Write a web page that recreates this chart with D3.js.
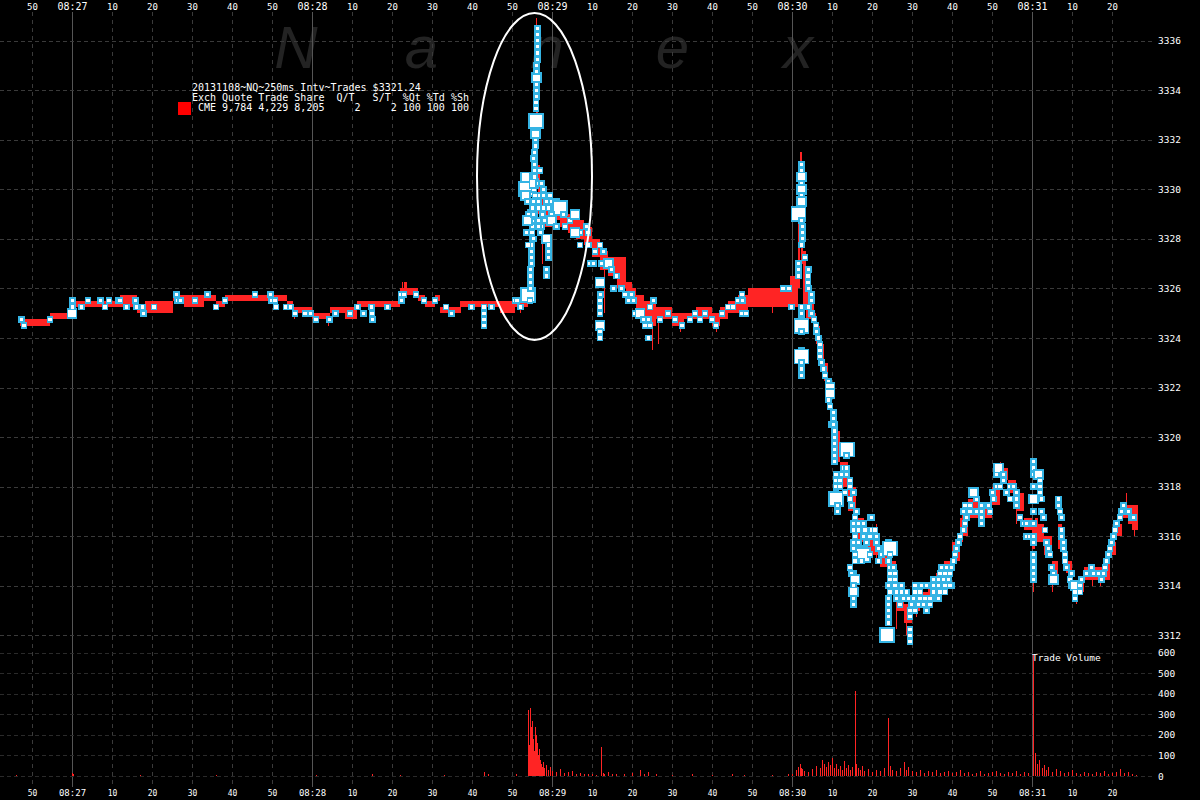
<!DOCTYPE html>
<html><head><meta charset="utf-8">
<script src="https://cdn.jsdelivr.net/npm/d3@7"></script>
<style>
html,body{margin:0;padding:0;background:#000;}
svg{display:block;}
</style></head><body>
<svg id="c" width="1200" height="800"></svg>
<script>
// ---------- DATA (seconds relative to 08:27:00) ----------
const secTicks = d3.range(-10, 261, 10);
const priceTicks = d3.range(3312, 3337, 2);
const volTicks = d3.range(0, 601, 100);
const legendLines = [
  "20131108~NQ~250ms Intv~Trades $3321.24",
  "Exch Quote Trade Share  Q/T   S/T  %Qt %Td %Sh",
  " CME 9,784 4,229 8,205     2     2 100 100 100"
];
const watermark = ["N","a","n","e","x"];
const quoteEnd = 266.5;

// quotes: [startSec, bid, ask]
const quotesQuiet = [[-13,3324.5,3324.75],[-5.5,3324.75,3325.0],[0,3325.25,3325.5],[12,3325.25,3325.75],[16.25,3325.0,3325.25],[18.25,3325.0,3325.5],[25.25,3325.5,3325.75],[28,3325.25,3325.75],[33,3325.5,3325.75],[36,3325.25,3325.5],[38.25,3325.5,3325.75],[53.75,3325.25,3325.5],[55.25,3325.0,3325.25],[60,3324.75,3325.0],[64.5,3325.0,3325.25],[68.25,3324.75,3325.25],[71.25,3325.25,3325.5],[82,3325.5,3326.0],[83,3325.75,3326.25],[83.75,3325.75,3326.0],[86.5,3325.5,3325.75],[88.25,3325.25,3325.5],[90.75,3325.5,3325.75],[92,3325.0,3325.25],[97,3325.25,3325.5],[107,3325.0,3325.5],[110.75,3325.25,3325.5]];
const quotesSpike = [[114,3325.5,3326.0],[114.5,3326.0,3327.0],[115,3327.5,3329.0],[115.5,3329.5,3331.5],[116,3332.0,3336.75],[116.3,3330.0,3334.0],[116.6,3329.0,3331.0],[117,3328.75,3330.0],[118,3328.5,3329.5],[120,3328.75,3329.5],[122,3328.5,3329.25],[124,3328.25,3329.0],[126,3328.0,3328.75],[128,3327.75,3328.5],[130,3327.25,3328.0],[132,3326.75,3327.5],[134,3326.5,3327.25],[136.25,3326.0,3327.25],[138.5,3325.75,3326.25],[140,3325.5,3326.0],[141,3325.0,3325.75],[143,3324.5,3325.5],[146,3324.75,3325.25],[150,3324.5,3325.0],[153,3324.75,3325.0],[156,3324.75,3325.25],[160,3324.5,3325.0],[162,3324.75,3325.25],[164,3325.0,3325.5],[166.5,3325.0,3325.75]];
const quotesSell = [[169,3325.25,3326.0],[179.5,3325.25,3326.5],[181.5,3326.0,3329.0],[182,3328.5,3331.5],[182.25,3327.0,3329.5],[182.75,3325.25,3327.5],[183.5,3324.75,3326.5],[184.5,3324.75,3325.5],[185.5,3324.25,3325.0],[186,3323.75,3324.5],[187,3323.0,3323.75],[188,3322.25,3323.0],[189,3321.5,3322.25],[190,3320.25,3321.0],[191,3319.0,3320.25],[192,3318.0,3319.0],[194,3317.0,3318.0],[196,3315.75,3316.75],[198,3315.25,3316.0],[200,3315.25,3316.0],[202,3314.75,3315.5],[204,3313.75,3315.0],[206,3313.0,3313.75],[208,3312.5,3313.25],[210,3313.0,3313.75],[212,3313.25,3313.75],[214,3313.5,3314.0],[216,3314.0,3314.5],[218,3314.25,3315.0],[220,3315.0,3315.75],[222,3316.0,3316.75],[224,3316.75,3317.5],[227,3316.75,3317.25],[230,3317.25,3318.0],[232,3318.25,3318.75],[234,3317.75,3318.25],[236,3317.0,3317.75],[238,3316.25,3316.75],[240,3315.5,3316.5],[240.75,3315.75,3316.75],[241.5,3315.75,3316.5],[243,3315.25,3316.0],[245,3314.25,3315.0],[246.5,3315.5,3316.5],[247.5,3315.0,3315.75],[248.5,3314.5,3315.0],[250,3313.75,3314.25],[253,3314.25,3314.75],[256,3314.25,3314.75],[258,3314.25,3315.0],[259.5,3315.25,3315.75],[261,3316.0,3316.5],[262.5,3316.75,3317.25],[264,3316.5,3317.25],[265,3316.25,3317.25]];
// momentary quote flickers: [sec, low, high]
const quoteTicks = [[55.5,3324.75,3325.25],[64,3324.5,3325.0],[75.5,3324.75,3325.25],[82.5,3325.5,3326.25],[97,3325.0,3325.5],[112,3325.0,3325.5],[115.9,3331.0,3336.9],[117.5,3327.0,3330.0],[133,3325.0,3327.5],[145,3323.5,3325.0],[146.5,3323.75,3324.75],[152,3324.25,3325.0],[161,3324.25,3325.0],[175,3325.0,3326.0],[182.1,3329.0,3331.5],[183,3324.5,3327.0],[195,3314.75,3316.5],[201,3315.0,3316.5],[206,3312.25,3313.5],[208.5,3312.0,3313.0],[211,3312.75,3313.5],[222.5,3315.75,3317.0],[225.5,3317.25,3318.0],[232,3318.0,3319.0],[236,3316.5,3317.5],[240.3,3313.75,3314.5],[245,3313.75,3314.5],[251,3313.25,3314.0],[255,3314.0,3314.5],[257,3314.0,3314.5],[263.5,3317.0,3317.75],[265.5,3316.0,3316.75]];

// trades: [sec, price, sizeClass]
const tradesQuiet = [[-12.6,3324.75,1],[-12.0,3324.5,1],[-5.5,3324.75,1],[0.0,3325.0,2],[0.1,3325.25,1],[0.2,3325.5,1],[2.4,3325.25,1],[4.0,3325.5,1],[7.2,3325.5,1],[8.25,3325.25,1],[9.25,3325.5,1],[11.6,3325.5,1],[12.0,3325.5,1],[13.7,3325.25,1],[15.9,3325.5,1],[16.2,3325.25,1],[17.7,3325.25,1],[17.8,3325.0,1],[20.5,3325.25,1],[26.2,3325.75,1],[26.3,3325.5,1],[27.2,3325.5,1],[30.75,3325.5,1],[33.9,3325.75,1],[36.0,3325.25,1],[38.25,3325.5,1],[45.75,3325.75,1],[49.7,3325.75,1],[49.8,3325.5,1],[50.75,3325.5,1],[51.0,3325.25,1],[53.5,3325.25,1],[54.7,3325.25,1],[55.75,3325.0,1],[58.25,3325.0,1],[59.7,3325.0,1],[61.0,3324.75,1],[64.3,3324.75,1],[65.9,3325.0,1],[69.5,3325.0,1],[71.4,3325.25,1],[72.8,3325.0,1],[74.9,3325.25,1],[75.0,3325.0,1],[75.1,3324.75,1],[78.9,3325.25,1],[82.25,3325.75,1],[82.3,3325.5,1],[83.0,3325.75,1],[86.0,3325.75,1],[88.0,3325.5,1],[90.75,3325.5,1],[93.5,3325.25,1],[94.9,3325.0,1],[99.9,3325.25,1],[103.0,3325.25,1],[103.0,3325.0,1],[103.0,3324.75,1],[103.0,3324.5,1],[104.9,3325.25,1],[110.75,3325.5,1],[111.25,3325.5,1],[112.2,3325.25,1]];
const tradesSpike = [[114.0,3325.75,3],[114.5,3325.5,1],[114.6,3326.0,1],[114.6,3326.25,1],[114.7,3326.5,1],[114.7,3326.75,1],[114.8,3327.0,1],[114.8,3327.25,1],[114.9,3327.5,1],[114.9,3327.75,1],[115.0,3328.0,1],[115.0,3328.25,1],[115.1,3328.5,1],[115.1,3328.75,1],[115.2,3329.0,2],[115.2,3329.25,1],[115.3,3329.5,1],[113.5,3330.0,3],[113.4,3330.5,2],[113.4,3329.75,2],[113.8,3329.5,1],[114.2,3329.0,1],[113.9,3328.75,2],[113.6,3328.25,1],[114.0,3327.75,1],[116.9,3329.75,1],[117.6,3329.0,1],[117.9,3330.0,1],[115.5,3330.0,1],[115.5,3330.25,2],[115.6,3330.5,1],[115.6,3330.75,1],[115.7,3331.0,1],[115.7,3331.25,1],[115.7,3331.5,1],[115.8,3331.75,1],[115.8,3332.0,1],[115.8,3332.25,2],[115.9,3332.5,1],[116.0,3332.75,3],[116.0,3333.25,1],[116.0,3333.5,1],[116.1,3333.75,1],[116.1,3334.0,1],[116.1,3334.25,1],[116.2,3334.5,2],[116.2,3334.75,1],[116.2,3335.0,1],[116.3,3335.25,1],[116.3,3335.5,1],[116.3,3335.75,1],[116.4,3336.0,1],[116.4,3336.25,1],[116.4,3336.5,1],[115.75,3329.75,1],[116.6,3329.5,1],[116.75,3329.25,1],[115.3,3329.0,1],[117.4,3328.5,1],[116.6,3328.5,1],[115.3,3328.0,1],[117.1,3328.25,1],[115.3,3331.25,1],[117.0,3330.75,1],[116.6,3330.25,1],[117.4,3330.25,1],[117.8,3329.75,1],[118.7,3329.5,1],[119.5,3329.75,1],[119.9,3329.5,1],[121.2,3329.5,1],[117.8,3329.25,1],[119.1,3329.25,1],[120.75,3329.25,1],[122.0,3329.25,3],[119.9,3329.0,1],[122.8,3329.0,1],[116.6,3328.75,1],[118.25,3328.75,1],[119.9,3328.75,2],[124.5,3328.75,1],[125.75,3329.0,2],[121.2,3328.5,1],[123.25,3328.5,1],[127.0,3328.25,1],[125.75,3328.25,2],[128.7,3328.5,1],[129.0,3328.25,1],[118.7,3328.0,2],[119.1,3327.75,1],[119.1,3327.5,1],[119.1,3327.25,1],[118.7,3326.75,1],[118.7,3326.5,1]];
const tradesDrift = [[127.0,3327.75,1],[129.1,3327.75,1],[129.5,3327.0,1],[130.3,3327.0,1],[130.75,3327.5,1],[132.0,3327.75,1],[132.8,3327.5,1],[132.4,3327.0,1],[134.1,3327.0,2],[134.9,3326.75,1],[136.2,3326.5,1],[132.0,3326.25,2],[132.1,3325.75,1],[132.0,3325.5,1],[132.0,3325.25,1],[132.0,3325.0,1],[132.0,3324.5,2],[132.0,3324.25,1],[132.0,3324.0,1],[135.3,3326.0,1],[137.4,3326.0,1],[138.25,3325.75,1],[139.9,3325.75,1],[139.1,3325.5,1],[140.3,3325.5,1],[140.75,3325.0,1],[142.0,3325.0,2],[142.8,3324.75,1],[144.1,3324.75,1],[145.3,3325.5,1],[144.5,3325.25,1],[143.25,3324.5,1],[144.5,3324.5,1],[144.1,3324.0,1],[147.0,3324.75,1],[149.0,3325.0,1],[150.75,3324.75,1],[152.5,3324.5,1],[154.5,3324.75,1],[155.75,3325.0,1],[157.0,3324.75,1],[158.25,3325.0,1],[160.0,3324.75,1],[161.0,3324.5,1],[162.5,3325.0,1],[164.0,3325.25,1],[165.25,3325.25,1],[166.5,3325.5,1],[167.5,3325.75,1],[167.7,3325.5,1],[167.5,3325.0,1],[168.5,3325.0,1],[177.75,3326.0,1],[179.25,3326.0,1],[179.9,3325.25,1]];
const tradesSpike2 = [[182.4,3331.0,1],[182.4,3330.75,1],[182.4,3330.5,2],[182.4,3330.25,1],[182.4,3330.0,2],[182.4,3329.75,1],[182.4,3329.5,2],[182.4,3329.25,1],[181.6,3329.0,3],[182.4,3328.75,1],[182.6,3328.5,1],[182.6,3328.25,1],[182.6,3328.0,1],[182.4,3327.75,1],[183.25,3327.25,1],[181.6,3327.0,1],[181.6,3326.75,1],[181.6,3326.5,1],[184.1,3326.75,1],[184.0,3326.5,1],[184.0,3326.25,1],[184.1,3326.0,1],[184.9,3325.75,1],[184.9,3325.5,1],[184.1,3325.25,1],[182.4,3325.25,1],[182.4,3325.0,1],[182.4,3324.75,1],[182.4,3324.5,3],[182.4,3324.25,1],[182.4,3323.5,1],[182.4,3323.25,3],[182.4,3323.0,1],[182.4,3322.75,1],[182.4,3322.5,1],[184.9,3325.0,1],[185.5,3324.75,1],[186.0,3324.5,1],[186.2,3324.25,1],[186.6,3324.0,1],[187.0,3323.75,1],[187.0,3323.5,1],[187.0,3323.25,1],[187.4,3323.0,1],[187.8,3322.75,1],[188.25,3322.5,1],[189.1,3322.25,1],[189.5,3322.0,2],[189.5,3321.75,2],[189.1,3321.5,1],[189.5,3321.25,1],[190.3,3321.0,1],[190.3,3320.75,1],[190.75,3320.5,1],[190.75,3320.25,1]];
const tradesSelloff = [[189.9,3320.5,1],[190.3,3320.5,1],[190.6,3320.25,1],[190.6,3320.0,1],[190.6,3319.75,1],[190.6,3319.5,1],[190.6,3319.25,1],[190.6,3319.0,1],[193.7,3319.5,3],[193.7,3319.25,1],[191.0,3318.5,1],[191.0,3318.25,1],[191.0,3318.0,1],[191.0,3317.75,1],[191.0,3317.5,3],[191.4,3317.25,1],[191.4,3317.0,1],[192.8,3318.75,1],[193.7,3318.75,1],[192.4,3318.5,1],[193.7,3318.5,1],[192.0,3318.25,1],[194.5,3318.25,1],[192.0,3318.0,1],[194.5,3318.0,1],[193.25,3317.75,1],[195.3,3317.75,1],[194.5,3317.5,1],[194.9,3317.25,1],[196.2,3317.0,1],[195.75,3316.75,1],[195.3,3316.5,1],[196.6,3316.5,1],[197.8,3316.5,1],[199.5,3316.75,1],[199.9,3316.75,1],[195.3,3316.25,1],[196.6,3316.25,1],[198.25,3316.25,1],[199.9,3316.25,1],[200.75,3316.25,1],[195.75,3316.0,1],[197.8,3316.0,1],[199.5,3316.0,1],[201.2,3316.0,1],[195.3,3315.75,1],[196.6,3315.75,1],[198.7,3315.75,1],[201.2,3315.75,1],[195.3,3315.5,1],[196.6,3315.5,1],[198.25,3315.5,1],[201.6,3315.5,1],[197.8,3315.25,3],[195.75,3315.25,1],[199.5,3315.25,1],[202.4,3315.25,1],[195.75,3315.0,1],[197.4,3315.0,1],[201.6,3315.0,1],[194.5,3314.75,1],[195.3,3314.5,1],[194.9,3314.5,1],[195.75,3314.25,2],[195.3,3314.0,1],[195.3,3313.75,2],[195.3,3313.5,1],[195.3,3313.25,1]];
const tradesBottom = [[204.1,3315.75,1],[204.5,3315.5,3],[204.5,3315.25,1],[204.1,3315.0,1],[204.5,3314.75,1],[205.3,3314.75,1],[204.5,3314.5,1],[205.75,3314.5,1],[204.5,3314.25,1],[205.75,3314.25,1],[204.1,3314.0,1],[205.75,3314.0,1],[207.0,3314.0,1],[204.5,3313.75,1],[206.2,3313.75,1],[207.4,3313.75,1],[208.7,3313.75,1],[204.1,3313.5,1],[206.2,3313.5,1],[207.8,3313.5,1],[209.1,3313.5,1],[210.3,3313.5,1],[212.0,3313.5,1],[213.25,3313.5,1],[214.5,3313.5,1],[204.1,3313.25,1],[207.0,3313.25,1],[209.9,3313.25,1],[211.6,3313.25,1],[212.8,3313.25,1],[214.5,3313.25,1],[204.1,3313.0,1],[209.5,3313.0,1],[210.75,3313.0,1],[213.7,3313.0,1],[204.1,3312.75,1],[209.5,3312.75,1],[204.1,3312.5,1],[203.8,3312.0,3],[209.5,3312.25,1],[209.5,3312.0,1],[209.5,3311.75,1],[207.4,3314.0,1],[210.75,3314.0,1],[212.4,3314.0,1],[213.7,3314.0,1],[210.75,3313.75,1],[212.0,3313.75,1]];
const tradesRebound = [[215.3,3314.25,1],[216.6,3314.25,1],[217.8,3314.25,1],[219.1,3314.25,1],[219.9,3314.0,1],[215.3,3314.0,1],[216.6,3314.0,1],[218.25,3314.0,1],[219.5,3314.0,1],[215.3,3313.75,1],[217.0,3313.75,1],[218.25,3313.75,1],[216.2,3313.5,1],[216.6,3313.5,1],[217.0,3314.5,1],[218.25,3314.5,1],[219.5,3314.5,1],[217.4,3314.75,1],[218.7,3314.75,1],[219.9,3314.75,1],[220.3,3315.0,1],[220.75,3315.25,1],[221.2,3315.5,1],[221.6,3315.75,1],[222.0,3316.0,1],[222.8,3316.25,1],[223.25,3316.5,1],[223.7,3316.75,1],[222.8,3317.0,1],[223.25,3317.25,1],[224.5,3317.0,1],[226.2,3317.0,1],[224.5,3317.25,1],[226.2,3317.5,1],[225.3,3317.75,2],[227.4,3317.25,1],[227.4,3317.0,1],[227.4,3316.75,1],[227.4,3316.5,1],[229.1,3317.25,1],[229.5,3317.0,1],[230.3,3317.5,1],[230.1,3317.75,1],[231.2,3318.5,1],[231.6,3318.75,2],[232.8,3318.5,1],[232.8,3318.25,1],[231.2,3318.0,1],[232.0,3318.0,1],[234.5,3318.0,1],[235.3,3318.0,1],[233.7,3317.75,1],[236.2,3317.75,1],[234.5,3317.5,1],[236.2,3317.5,1],[236.2,3317.25,1],[237.0,3316.75,1],[237.8,3316.5,1],[238.7,3316.5,1],[238.7,3316.0,1],[239.5,3316.0,1],[240.3,3319.0,1],[240.3,3318.75,1],[240.3,3318.5,1],[240.3,3318.0,1],[240.3,3317.5,2],[240.3,3317.0,1],[240.3,3316.5,1],[240.3,3316.0,1],[240.3,3315.75,1],[240.3,3315.25,1],[240.3,3315.0,1],[240.3,3314.75,1],[240.3,3314.5,1],[240.3,3314.25,1],[241.6,3318.5,2],[242.0,3318.25,1],[242.0,3318.0,1],[242.0,3317.75,1],[242.4,3317.5,1],[242.4,3317.0,1],[242.8,3316.75,1],[243.25,3316.25,1],[243.7,3315.75,1],[244.1,3315.5,1],[244.1,3315.25,1],[244.5,3315.25,1],[244.9,3314.75,1],[245.3,3314.5,1],[245.3,3314.25,2],[246.6,3317.5,1],[246.6,3317.25,1],[247.0,3317.0,1],[247.4,3316.75,1],[247.4,3316.25,1],[247.4,3316.0,1],[247.8,3315.75,1],[247.8,3315.5,1],[248.25,3315.25,1],[248.25,3315.0,1],[248.7,3314.75,1],[249.9,3314.5,1],[249.5,3314.25,1],[249.9,3314.0,1],[250.75,3314.0,2],[252.0,3314.0,1],[252.4,3314.25,1],[253.7,3314.5,1],[254.9,3314.75,1],[256.2,3314.5,1],[250.75,3313.75,1],[252.0,3313.75,1],[250.75,3313.5,1],[255.3,3314.5,1],[256.6,3314.5,1],[257.8,3314.5,1],[257.4,3314.25,1],[258.25,3314.75,1],[258.7,3315.0,1],[259.1,3315.25,1],[259.5,3315.5,1],[259.9,3315.75,1],[260.3,3316.0,1],[260.75,3316.25,1],[261.2,3316.5,1],[262.0,3316.75,1],[262.4,3317.0,1],[262.8,3317.25,1],[264.1,3317.0,1],[264.9,3316.75,1],[265.3,3316.75,1]];

// volume: [sec, shares]
const volQuiet = [[-14,5],[0,15],[0.2,8],[17,5],[36,4],[61,6],[75,8],[82,5],[93,6],[103,20],[104,8],[111,10]];
const volSpike = [[114,320],[114.25,150],[114.5,330],[114.75,240],[115,270],[115.25,180],[115.5,120],[115.75,240],[116,200],[116.25,160],[116.5,100],[116.75,130],[117,80],[117.25,60],[117.5,45],[117.75,70],[118,40],[118.5,55],[119,30],[119.5,45],[120,25],[121,20],[122,35],[123,15],[124,18],[125,25],[126,12],[127,15],[128,10],[129,12],[130,8],[131,6],[132.25,140],[132.75,15],[133,10],[134,20],[135,8],[136,12],[138,10],[140,14],[142,30],[143,12],[144,20],[146,8],[150,6],[155,8],[160,5],[165,10],[168,6],[175,5],[179,8],[180,12]];
const volSell = [[181,30],[181.5,45],[182,60],[182.25,40],[182.5,35],[183,25],[184,20],[185,35],[186,50],[187,40],[187.5,80],[188,60],[188.5,45],[189,70],[189.5,55],[190,90],[190.5,40],[191,60],[191.5,35],[192,50],[192.5,30],[193,75],[193.5,40],[194,55],[194.5,30],[195,45],[195.75,415],[196,60],[196.5,40],[197,30],[197.5,50],[198,25],[199,35],[200,20],[201,30],[202,25],[203,40],[204,280],[204.5,50],[205,30],[206,25],[207,40],[208,70],[208.5,30],[209,45],[210,25],[211,20],[212,30],[213,15],[214,25],[215,20],[216,30],[217,15],[218,20],[219,25],[220,15],[221,20],[222,30],[223,15],[224,20],[225,10],[226,15],[227,25],[228,10],[229,15],[230,20],[231,25],[232,15],[233,10],[234,20],[235,15],[236,25],[237,10],[238,20],[239,15],[240.25,590],[240.75,110],[241.25,60],[241.75,80],[242.5,40],[243,55],[243.5,30],[244,45],[245,20],[246,35],[247,25],[248,15],[249,20],[250,30],[251,15],[252,10],[253,20],[254,15],[255,10],[256,20],[257,15],[258,25],[259,10],[260,15],[261,20],[262,35],[263,15],[264,20],[265,10],[266,5]];

// ---------- CHART ----------
const W = 1200, H = 800;
const MONO = "'DejaVu Sans Mono', 'Liberation Mono', monospace";
const RED = "#ff2424", BLUE = "#35b4e4";
const x = d3.scaleLinear().domain([-18, 267]).range([0, 1140]);
const y = d3.scaleLinear().domain([3312, 3336]).range([635.3, 40.7]);
const yv = d3.scaleLinear().domain([0, 600]).range([776, 652.7]);
const sq = d3.scaleOrdinal().domain([1,2,3]).range([5, 9, 14]);

const svg = d3.select("#c");
svg.append("rect").attr("width", W).attr("height", H).attr("fill", "#000");

// watermark
svg.append("g").selectAll("text").data(watermark).join("text")
  .attr("x", (d, i) => 296 + i * 125.5).attr("y", 68)
  .attr("text-anchor", "middle")
  .attr("font-family", "'Liberation Sans', Arial, sans-serif")
  .attr("font-style", "italic").attr("font-size", 60)
  .attr("fill", "#232323").text(d => d);

// grid
const grid = svg.append("g").attr("shape-rendering", "crispEdges");
grid.selectAll("line.v").data(secTicks).join("line").attr("class", "v")
  .attr("x1", d => Math.round(x(d)) + 0.5).attr("x2", d => Math.round(x(d)) + 0.5)
  .attr("y1", 12).attr("y2", 787)
  .attr("stroke", d => d % 60 === 0 ? "#555" : "#3a3a3a")
  .attr("stroke-dasharray", d => d % 60 === 0 ? null : "4,4");
grid.selectAll("line.hp").data(priceTicks).join("line").attr("class", "hp")
  .attr("x1", 0).attr("x2", 1153)
  .attr("y1", d => Math.round(y(d)) + 0.5).attr("y2", d => Math.round(y(d)) + 0.5)
  .attr("stroke", "#3a3a3a").attr("stroke-dasharray", "4,3");
grid.selectAll("line.hv").data(volTicks).join("line").attr("class", "hv")
  .attr("x1", 0).attr("x2", 1153)
  .attr("y1", d => Math.round(yv(d)) + 0.5).attr("y2", d => Math.round(yv(d)) + 0.5)
  .attr("stroke", "#2a2a2a").attr("stroke-dasharray", "4,3");

// quotes
const quotes = quotesQuiet.concat(quotesSpike, quotesSell);
const qSeg = quotes.map((q, i) => ({t0: q[0], t1: i < quotes.length - 1 ? quotes[i + 1][0] : quoteEnd, bid: q[1], ask: q[2]}));
svg.append("g").attr("shape-rendering", "crispEdges").selectAll("rect").data(qSeg).join("rect")
  .attr("x", d => x(d.t0)).attr("width", d => Math.max(1, x(d.t1) - x(d.t0)))
  .attr("y", d => y(d.ask)).attr("height", d => y(d.bid) - y(d.ask))
  .attr("fill", RED);
svg.append("g").attr("shape-rendering", "crispEdges").selectAll("rect").data(quoteTicks).join("rect")
  .attr("x", d => x(d[0])).attr("width", 1.2)
  .attr("y", d => y(d[2])).attr("height", d => y(d[1]) - y(d[2]))
  .attr("fill", RED);

// volume
const vols = volQuiet.concat(volSpike, volSell);
svg.append("g").attr("shape-rendering", "crispEdges").selectAll("rect").data(vols).join("rect")
  .attr("x", d => x(d[0])).attr("width", 1.3)
  .attr("y", d => yv(d[1])).attr("height", d => yv(0) - yv(d[1]))
  .attr("fill", RED);

// trades
const trades = tradesQuiet.concat(tradesSpike, tradesDrift, tradesSpike2, tradesSelloff, tradesBottom, tradesRebound);
svg.append("g").attr("shape-rendering", "crispEdges").selectAll("rect").data(trades).join("rect")
  .attr("x", d => x(d[0]) - sq(d[2]) / 2).attr("y", d => y(d[1]) - sq(d[2]) / 2)
  .attr("width", d => sq(d[2])).attr("height", d => sq(d[2]))
  .attr("fill", "#fff").attr("stroke", BLUE).attr("stroke-width", 1.8);

// ellipse highlight
svg.append("ellipse").attr("cx", 534.5).attr("cy", 176.5).attr("rx", 57.5).attr("ry", 163.5)
  .attr("fill", "none").attr("stroke", "#fff").attr("stroke-width", 2);

// axes
const fmt = d => {
  const s = ((d % 60) + 60) % 60;
  if (s === 0) return "08:" + String(27 + Math.floor(d / 60)).padStart(2, "0");
  return String(s);
};
const styleAxis = (g, minSize, secSize) => {
  g.select(".domain").remove();
  g.attr("font-family", MONO).attr("color", "#fff");
  g.selectAll("text").attr("font-size", d => d % 60 === 0 ? minSize : secSize);
};
svg.append("g").attr("transform", "translate(0,10)")
  .call(d3.axisTop(x).tickValues(secTicks).tickSize(0).tickPadding(0).tickFormat(fmt))
  .call(g => styleAxis(g, 10, 9));
svg.append("g").attr("transform", "translate(0,790)")
  .call(d3.axisBottom(x).tickValues(secTicks).tickSize(0).tickPadding(0).tickFormat(fmt))
  .call(g => styleAxis(g, 9, 8));
svg.append("g").attr("transform", "translate(1158,0)")
  .call(d3.axisRight(y).tickValues(priceTicks).tickSize(0).tickPadding(0).tickFormat(d3.format("d")))
  .call(g => { g.select(".domain").remove(); g.attr("font-family", MONO).attr("font-size", 9.5).attr("color", "#fff"); });
svg.append("g").attr("transform", "translate(1158,0)")
  .call(d3.axisRight(yv).tickValues(volTicks).tickSize(0).tickPadding(0).tickFormat(d3.format("d")))
  .call(g => { g.select(".domain").remove(); g.attr("font-family", MONO).attr("font-size", 9.5).attr("color", "#fff"); });

// legend
svg.append("rect").attr("x", 178).attr("y", 102).attr("width", 13).attr("height", 13).attr("fill", "#ff0000");
svg.append("g").selectAll("text").data(legendLines).join("text")
  .attr("x", 192).attr("y", (d, i) => 91 + i * 10)
  .attr("font-family", MONO).attr("font-size", 10).attr("fill", "#fff")
  .style("white-space", "pre").text(d => d);

svg.append("text").attr("x", 1032).attr("y", 661)
  .attr("font-family", MONO).attr("font-size", 9.5).attr("fill", "#fff").text("Trade Volume");
</script>
</body></html>
